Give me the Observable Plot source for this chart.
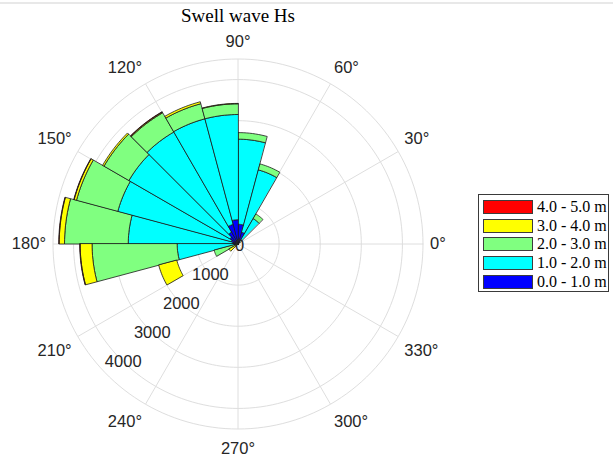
<!DOCTYPE html>
<html>
<head>
<meta charset="utf-8">
<script src="https://cdn.jsdelivr.net/npm/d3@7"></script>
<script src="https://cdn.jsdelivr.net/npm/@observablehq/plot@0.6"></script>
<style>
  html, body { margin: 0; padding: 0; background: #fff; }
  body { width: 613px; height: 457px; overflow: hidden; position: relative; }
  #topline { position: absolute; left: 0; top: 2px; width: 613px; height: 2px; background: #e8e8e8; }
  #chart { position: absolute; left: 0; top: 0; }
  #title { position: absolute; left: 118px; top: 5px; width: 240px; text-align: center;
           font-family: "Liberation Serif", "DejaVu Serif", serif; font-size: 19px; color: #000; line-height: 22px; }
  #legend { position: absolute; left: 478px; top: 194px; width: 131px; height: 98px;
            border: 1px solid #3a3a3a; background: #fff; box-sizing: border-box; }
  .row { position: absolute; left: 4px; height: 15px; }
  .sw { position: absolute; left: 0; top: 0; width: 50px; height: 14px; border: 1px solid #3c3c3c; box-sizing: border-box; }
  .lab { position: absolute; left: 54px; top: -3px; white-space: nowrap;
         font-family: "Liberation Serif", "DejaVu Serif", serif; font-size: 16px; color: #000; line-height: 20px; }
</style>
</head>
<body>
<div id="topline"></div>
<div id="chart"></div>
<div id="title">Swell wave Hs</div>
<div id="legend"></div>
<script>
// ---- data ----
const binStart = [45, 60, 75, 90, 105, 120, 135, 150, 165, 180, 195, 210]; // degrees, 15° bins
const binWidth = 15;
const bandLabels = ["0.0 - 1.0 m", "1.0 - 2.0 m", "2.0 - 3.0 m", "3.0 - 4.0 m", "4.0 - 5.0 m"];
const bandColors = ["#0000ff", "#00ffff", "#80ff80", "#ffff00", "#ff0000"];
// counts per band for each bin (stacked outward)
const band0 = [60, 300, 480, 590, 490, 330, 230, 170, 130, 100, 20, 0];
const band1 = [660, 1570, 2070, 2560, 2660, 2810, 2840, 2860, 2540, 1380, 40, 0];
const band2 = [130, 150, 160, 260, 380, 540, 700, 1040, 1550, 2070, 540, 0];
// empty (undrawn) radial span seen below the 3-4 m segment in the 195-210° sector
const emptyBelowBand3 = [0, 0, 0, 0, 0, 0, 0, 0, 0, 0, 940, 0];
const band3 = [0, 0, 0, 10, 50, 20, 40, 60, 130, 290, 455, 250];
const band4 = [0, 0, 0, 0, 0, 10, 0, 10, 10, 10, 0, 0];
const bandCounts = [band0, band1, band2, band3, band4];
const thetaTicks = [0, 30, 60, 90, 120, 150, 180, 210, 240, 270, 300, 330];
const rTicks = [0, 1000, 2000, 3000, 4000];
const rMax = 4500;

// ---- geometry (pixels) ----
const W = 613, H = 457;
const cx = 237.5, cy = 243.5, R = 185;
const k = R / rMax; // px per count
const rad = d => d * Math.PI / 180;
const pol = (r, deg) => [r * Math.cos(rad(deg)), r * Math.sin(rad(deg))];

// wedge polygons
const wedges = [];
binStart.forEach((a0, i) => {
  let base = 0;
  bandCounts.forEach((arr, b) => {
    if (b === 3) base += emptyBelowBand3[i];
    const v = arr[i];
    if (!v) return;
    const r0 = base, r1 = base + v;
    base = r1;
    const id = i + "-" + b;
    const n = 10;
    for (let j = 0; j <= n; j++) {
      const [x, y] = pol(r1, a0 + binWidth * j / n);
      wedges.push({id, x, y, band: bandLabels[b]});
    }
    if (r0 > 0) {
      for (let j = n; j >= 0; j--) {
        const [x, y] = pol(r0, a0 + binWidth * j / n);
        wedges.push({id, x, y, band: bandLabels[b]});
      }
    } else {
      wedges.push({id, x: 0, y: 0, band: bandLabels[b]});
    }
  });
});

// grid rings
const ringVals = [1000, 2000, 3000, 4000, rMax];
const rings = [];
ringVals.forEach(rv => {
  for (let a = 0; a <= 360; a += 2) {
    const [x, y] = pol(rv, a);
    rings.push({ring: rv, x, y});
  }
});
const spokes = thetaTicks.map(a => {
  const [x2, y2] = pol(rMax, a);
  return {x1: 0, y1: 0, x2, y2};
});
// theta labels anchored just outside the outer ring, aligned away from centre
const labelR = 192 / k;
const thetaLabels = thetaTicks.map(a => {
  const [x, y] = pol(labelR, a);
  const c = Math.cos(rad(a)), s = Math.sin(rad(a));
  const ta = c > 0.01 ? "start" : c < -0.01 ? "end" : "middle";
  const la = s > 0.01 ? "bottom" : s < -0.01 ? "top" : "middle";
  const dy = s > 0.01 ? -(2 + 3.5 * Math.abs(s)) : s < -0.01 ? (2 + 4 * Math.abs(s)) : 0;
  return {x, y, text: a + "°", ta, la, dy};
});
const rLabels = rTicks.map(v => {
  const [x, y] = pol(v, 225);
  return {x, y, text: String(v)};
});

const font = "Liberation Sans, Arial, sans-serif";
const labelMarks = thetaLabels.map(d =>
  Plot.text([d], {x: "x", y: "y", text: "text", textAnchor: d.ta, lineAnchor: d.la, dy: d.dy,
    fill: "#262626", fontSize: 16.5, fontFamily: font}));

const plot = Plot.plot({
  width: W, height: H, margin: 0,
  x: {domain: [-cx / k, (W - cx) / k], axis: null},
  y: {domain: [-(H - cy) / k, cy / k], axis: null},
  color: {domain: bandLabels, range: bandColors},
  style: {background: "transparent"},
  marks: [
    Plot.line(rings, {x: "x", y: "y", z: "ring", stroke: "#dedede", strokeWidth: 1}),
    Plot.link(spokes, {x1: "x1", y1: "y1", x2: "x2", y2: "y2", stroke: "#dedede", strokeWidth: 1}),
    Plot.line(wedges, {x: "x", y: "y", z: "id", fill: "band", stroke: "#1a1a1a", strokeWidth: 0.8,
                       curve: "linear-closed", strokeLinejoin: "round"}),
    ...labelMarks,
    Plot.text(rLabels, {x: "x", y: "y", text: "text", fill: "#262626", fontSize: 16.5, dx: 1.5, dy: 1.5,
                        fontFamily: font})
  ]
});
document.getElementById("chart").appendChild(plot);

// legend (top to bottom: highest band first)
const legend = document.getElementById("legend");
const rowTops = [5, 23.7, 42.3, 61, 79.5];
bandLabels.slice().reverse().forEach((lab, i) => {
  const row = document.createElement("div");
  row.className = "row";
  row.style.top = rowTops[i] + "px";
  const sw = document.createElement("div");
  sw.className = "sw";
  sw.style.background = bandColors[bandLabels.indexOf(lab)];
  const t = document.createElement("div");
  t.className = "lab";
  t.textContent = lab;
  row.appendChild(sw); row.appendChild(t);
  legend.appendChild(row);
});
</script>
</body>
</html>
